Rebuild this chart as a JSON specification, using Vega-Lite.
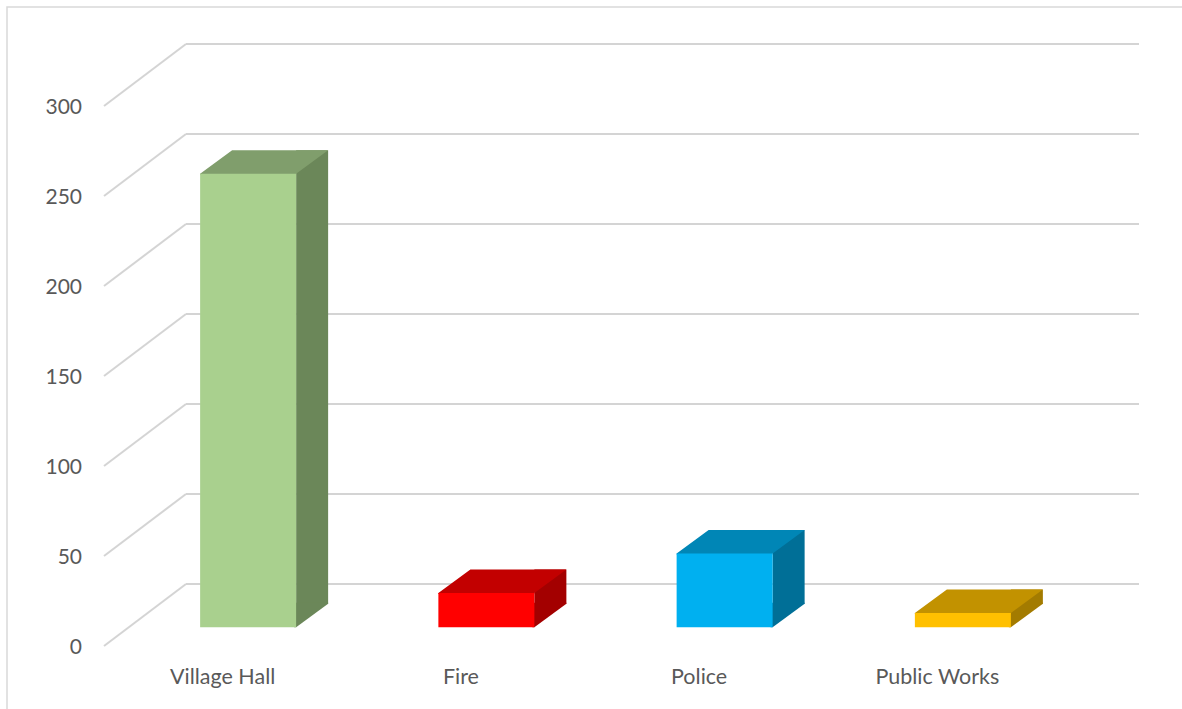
{
  "$schema": "https://vega.github.io/schema/vega-lite/v6.json",
  "autosize": {"type": "none"},
  "padding": {"left": 7, "top": 7, "right": 0, "bottom": 0},
  "width": 1180,
  "height": 710,
  "background": "white",
  "config": {
    "view": {"stroke": "#d9d9d9", "strokeWidth": 1.5},
    "font": "Lato",
    "axis": {"labelFont": "Lato", "labelFontSize": 21, "labelColor": "#595959", "title": null}
  },
  "datasets": {
    "spend": [
      {"dept": "Village Hall", "count": 252},
      {"dept": "Fire", "count": 19},
      {"dept": "Police", "count": 41},
      {"dept": "Public Works", "count": 8}
    ],
    "ticks": [{"v": 0}, {"v": 50}, {"v": 100}, {"v": 150}, {"v": 200}, {"v": 250}, {"v": 300}]
  },
  "layer": [
    {
      "data": {"name": "ticks"},
      "mark": {"type": "rule", "color": "#d4d4d4", "strokeWidth": 2, "xOffset": -25, "x2Offset": 57, "yOffset": 18.7, "y2Offset": -43.3},
      "encoding": {
        "x": {"datum": "Village Hall", "type": "nominal", "bandPosition": 0},
        "x2": {"datum": "Village Hall", "bandPosition": 0},
        "y": {"field": "v", "type": "quantitative"},
        "y2": {"field": "v"}
      }
    },
    {
      "data": {"name": "spend"},
      "mark": {"type": "bar", "width": 32, "xOffset": 64, "yOffset": -23.5, "y2Offset": -23.5},
      "encoding": {
        "x": {
          "field": "dept", "type": "nominal", "sort": null,
          "scale": {"domain": ["Village Hall", "Fire", "Police", "Public Works"], "range": [122, 1075], "paddingInner": 0, "paddingOuter": 0},
          "axis": {"domain": false, "ticks": false, "tickSize": 0, "grid": false, "labelAngle": 0, "labelAlign": "center", "labelOffset": -25.5, "offset": -89.7, "labelPadding": 50, "labelFontSize": 21.5}
        },
        "y": {
          "field": "count", "type": "quantitative",
          "scale": {"domain": [0, 300], "range": [620.3, 80.3], "nice": false, "zero": true},
          "axis": {"values": [0, 50, 100, 150, 200, 250, 300], "grid": true, "gridColor": "#d4d4d4", "gridWidth": 2, "domain": false, "ticks": false, "tickSize": 0, "tickOffset": -100.3, "translate": 57, "labelOffset": 64, "offset": -23, "labelPadding": 5}
        },
        "color": {"field": "dept", "type": "nominal", "scale": {"domain": ["Village Hall", "Fire", "Police", "Public Works"], "range": ["#6b8759", "#a30000", "#006f97", "#a37b00"]}, "legend": null}
      }
    },
    {
      "data": {"name": "spend"},
      "mark": {"type": "point", "shape": "M46,-24.5L46,0L48,0L80,-23.5L80,-24.5Z", "size": 4, "filled": true, "opacity": 1, "strokeWidth": 0},
      "encoding": {
        "x": {"field": "dept", "type": "nominal", "sort": null},
        "y": {"datum": 0, "type": "quantitative"},
        "color": {"field": "dept", "type": "nominal", "scale": {"domain": ["Village Hall", "Fire", "Police", "Public Works"], "range": ["#6b8759", "#a30000", "#006f97", "#a37b00"]}, "legend": null}
      }
    },
    {
      "data": {"name": "spend"},
      "mark": {"type": "point", "shape": "M-48,1L48,1L48,0L80,-23.5L-16,-23.5L-48,0Z", "size": 4, "filled": true, "opacity": 1, "strokeWidth": 0},
      "encoding": {
        "x": {"field": "dept", "type": "nominal", "sort": null},
        "y": {"field": "count", "type": "quantitative"},
        "color": {"field": "dept", "type": "nominal", "scale": {"domain": ["Village Hall", "Fire", "Police", "Public Works"], "range": ["#809e6c", "#c20000", "#0086b6", "#c29200"]}, "legend": null}
      }
    },
    {
      "data": {"name": "spend"},
      "mark": {"type": "bar", "width": 96},
      "encoding": {
        "x": {"field": "dept", "type": "nominal", "sort": null},
        "y": {"field": "count", "type": "quantitative"},
        "color": {"field": "dept", "type": "nominal", "scale": {"domain": ["Village Hall", "Fire", "Police", "Public Works"], "range": ["#a9d08e", "#ff0000", "#00b0f0", "#ffc000"]}, "legend": null}
      }
    }
  ],
  "resolve": {"scale": {"color": "independent"}}
}
